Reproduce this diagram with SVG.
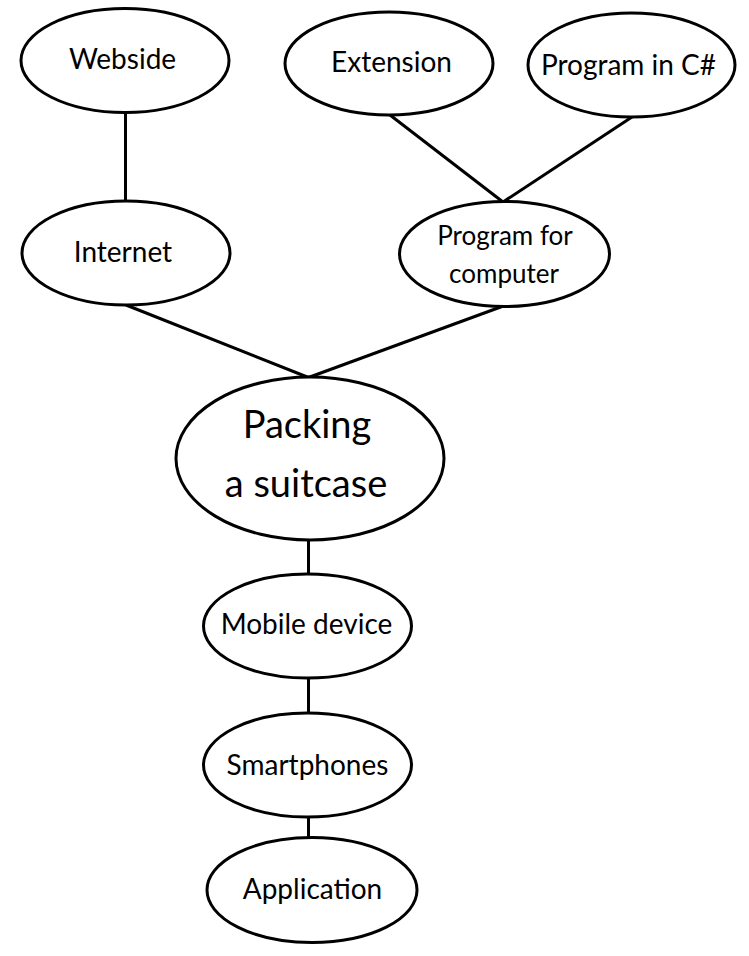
<svg xmlns="http://www.w3.org/2000/svg" width="749" height="956" viewBox="0 0 749 956">
<style>
.n ellipse{fill:#fff;stroke:#000;stroke-width:3}
.n text{font-family:Lato,"Open Sans",sans-serif;font-size:28px;fill:#000;text-anchor:middle}
#connectors line{stroke:#000;stroke-width:3}
</style>
<rect width="749" height="956" fill="#fff"/>
<g id="connectors">
<line x1="125.5" y1="112" x2="125.5" y2="201"/>
<line x1="390" y1="115" x2="503" y2="202"/>
<line x1="632" y1="117" x2="503" y2="202"/>
<line x1="126" y1="305" x2="308.5" y2="377.5"/>
<line x1="502" y1="306.5" x2="308.5" y2="377.5"/>
<line x1="308.5" y1="540" x2="308.5" y2="574"/>
<line x1="308.5" y1="678" x2="308.5" y2="713"/>
<line x1="308.5" y1="817" x2="308.5" y2="838"/>
</g>
<g id="webside" class="n"><ellipse cx="125" cy="60.5" rx="104" ry="52"/><text x="122.5" y="69">Webside</text></g>
<g id="extension" class="n"><ellipse cx="389" cy="63.5" rx="104" ry="51.5"/><text x="391.5" y="71.5">Extension</text></g>
<g id="program-csharp" class="n"><ellipse cx="631.5" cy="65" rx="103.5" ry="52"/><text x="628.5" y="75">Program in C#</text></g>
<g id="internet" class="n"><ellipse cx="126" cy="253" rx="104" ry="52"/><text x="123" y="261.5">Internet</text></g>
<g id="program-computer" class="n"><ellipse cx="504.5" cy="254" rx="105" ry="52.5"/><text x="505" y="245" style="font-size:26px">Program for</text><text x="504" y="283" style="font-size:26px">computer</text></g>
<g id="packing" class="n"><ellipse cx="310" cy="458.5" rx="134" ry="81.5"/><text x="307" y="438" style="font-size:38px">Packing</text><text x="306" y="496.5" style="font-size:38px">a suitcase</text></g>
<g id="mobile" class="n"><ellipse cx="307.5" cy="626" rx="104" ry="52"/><text x="306.5" y="634">Mobile device</text></g>
<g id="smartphones" class="n"><ellipse cx="307.5" cy="765" rx="104" ry="52"/><text x="307.5" y="775">Smartphones</text></g>
<g id="application" class="n"><ellipse cx="312" cy="890" rx="105" ry="52.5"/><text x="312.5" y="899">Application</text></g>
</svg>
